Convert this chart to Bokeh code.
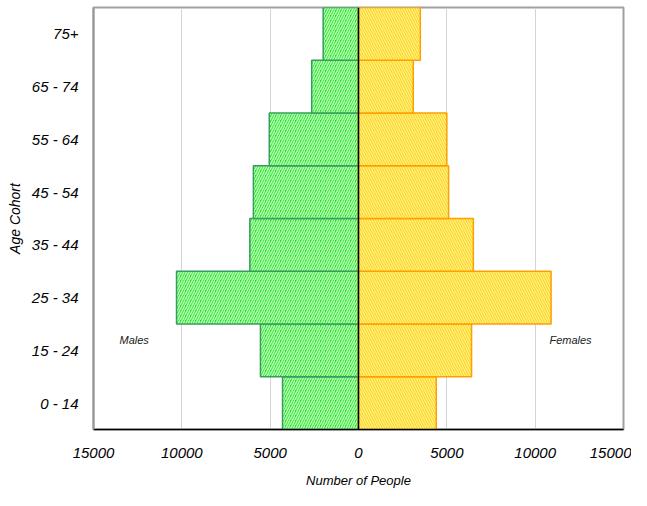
from bokeh.plotting import figure
from bokeh.models import Range1d, FactorRange, FixedTicker, CustomJSTickFormatter, Span
from bokeh.core.properties import value
from bokeh.embed import file_html
from bokeh.resources import INLINE

cohorts = ["0 - 14", "15 - 24", "25 - 34", "35 - 44", "45 - 54", "55 - 64", "65 - 74", "75+"]
males = [4300, 5550, 10300, 6150, 5950, 5050, 2650, 2000]
females = [4400, 6400, 10900, 6500, 5100, 5000, 3100, 3500]
x_ticks = [-15000, -10000, -5000, 0, 5000, 10000, 15000]

FONT = "Liberation Sans"

p = figure(width=631, height=490, output_backend="svg", toolbar_location=None,
           x_range=Range1d(-15000, 15000), y_range=FactorRange(factors=cohorts, range_padding=0),
           min_border_left=93, min_border_right=8, min_border_top=7, min_border_bottom=59)

p.hbar(y=cohorts, left=[-m for m in males], right=0, height=1,
       fill_color="#1ee01e", line_color="#3a9a60", line_width=1.5,
       hatch_pattern="right_diagonal_line", hatch_color="#b4ffb4", hatch_scale=5, hatch_weight=1.6)
p.hbar(y=cohorts, left=0, right=females, height=1,
       fill_color="#ffc800", line_color="#ff9f00", line_width=1.5,
       hatch_pattern="left_diagonal_line", hatch_color="#fff080", hatch_scale=5, hatch_weight=1.6)

p.add_layout(Span(location=0, dimension="height", line_color="black", line_width=1.5))

p.text(x=[-12700], y=["15 - 24"], text=["Males"], y_offset=-10,
       text_font=value(FONT), text_font_style="italic", text_font_size="11px",
       text_align="center", text_baseline="middle", text_color="#222222")
p.text(x=[12000], y=["15 - 24"], text=["Females"], y_offset=-10,
       text_font=value(FONT), text_font_style="italic", text_font_size="11px",
       text_align="center", text_baseline="middle", text_color="#222222")

p.xaxis.ticker = FixedTicker(ticks=x_ticks)
p.xaxis.formatter = CustomJSTickFormatter(code="return Math.abs(tick).toString()")
p.xaxis.axis_label = "Number of People"
p.yaxis.axis_label = "Age Cohort"
for ax in (p.xaxis, p.yaxis):
    ax.major_label_text_font = FONT
    ax.major_label_text_font_style = "italic"
    ax.major_label_text_font_size = "15px"
    ax.major_label_text_color = "black"
    ax.axis_label_text_font = FONT
    ax.axis_label_text_font_style = "italic"
    ax.axis_label_text_color = "black"
    ax.major_tick_line_color = None
    ax.minor_tick_line_color = None
p.xaxis.axis_label_text_font_size = "13px"
p.yaxis.axis_label_text_font_size = "14px"
p.xaxis.axis_line_color = "black"
p.xaxis.axis_line_width = 1.5
p.yaxis.axis_line_color = "#999999"
p.yaxis.axis_line_width = 2
p.xaxis.major_label_standoff = 12
p.xaxis.axis_label_standoff = 12
p.yaxis.major_label_standoff = 9
p.yaxis.axis_label_standoff = 6

p.xgrid.grid_line_color = "#d4d4d4"
p.ygrid.grid_line_color = None
p.outline_line_color = "#a0a0a0"
p.outline_line_width = 2

open("out.html", "w").write(file_html(p, INLINE))
